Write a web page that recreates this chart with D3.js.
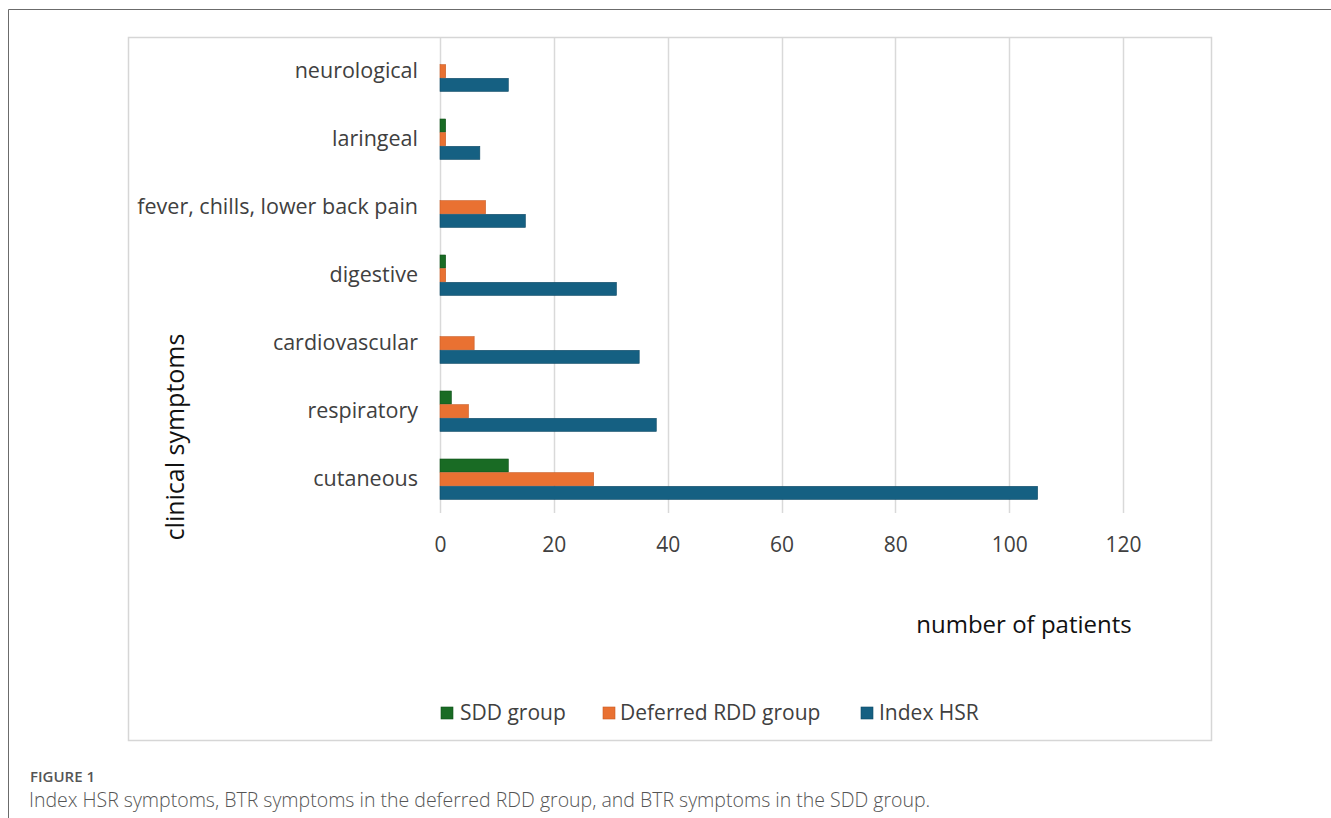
<!DOCTYPE html>
<html><head><meta charset="utf-8">
<script src="https://cdn.jsdelivr.net/npm/d3@7"></script>
<style>body{margin:0;background:#fff;} svg{display:block;}</style>
</head><body>
<script>
const categories = ["neurological","laringeal","fever, chills, lower back pain","digestive","cardiovascular","respiratory","cutaneous"];
const seriesNames = ["SDD group","Deferred RDD group","Index HSR"];
const sddValues = [0,1,0,1,0,2,12];
const rddValues = [1,1,8,1,6,5,27];
const hsrValues = [12,7,15,31,35,38,105];
const xTicks = [0,20,40,60,80,100,120];
const colors = ["#196b24","#e97132","#156082"];
const strokes = ["#10501a","#c85a22","#0e4a66"];

const W=1331,H=818;
const svg=d3.select("body").append("svg").attr("width",W).attr("height",H);
const font="'Open Sans', 'Noto Sans', sans-serif";

// outer frame
svg.append("line").attr("x1",8.5).attr("x2",W).attr("y1",9.5).attr("y2",9.5).attr("stroke","#6b6b6b").attr("stroke-width",1);
svg.append("line").attr("x1",8.5).attr("x2",8.5).attr("y1",9.5).attr("y2",H).attr("stroke","#6b6b6b").attr("stroke-width",1);
// inner box
svg.append("rect").attr("x",128.5).attr("y",37.5).attr("width",1083).attr("height",703)
  .attr("fill","#fff").attr("stroke","#d6d6d6").attr("stroke-width",1.5);

const x=d3.scaleLinear().domain([0,120]).range([440,1123]);
const y=d3.scaleBand().domain(categories).range([37,513]);
const sub=d3.scaleBand().domain(seriesNames).range([0,41]);

// grid
const g=svg.append("g");
g.selectAll("line.grid").data(xTicks).join("line").attr("class","grid")
  .attr("x1",d=>Math.round(x(d))+0.5).attr("x2",d=>Math.round(x(d))+0.5)
  .attr("y1",38).attr("y2",513).attr("stroke","#d9d9d9").attr("stroke-width",1.5);

// x axis tick labels
const xAxis=d3.axisBottom(x).tickValues(xTicks).tickSize(0).tickPadding(0);
const ax=svg.append("g").attr("transform","translate(0,537)").call(xAxis);
ax.select(".domain").remove();
ax.selectAll("text").attr("font-family",font).attr("font-size",21).attr("fill","#404040").attr("dy","0.71em");

// y axis labels
const yAxis=d3.axisLeft(y).tickSize(0).tickPadding(0);
const ay=svg.append("g").attr("transform","translate(418,0)").call(yAxis);
ay.select(".domain").remove();
ay.selectAll("text").attr("font-family",font).attr("font-size",21.5).attr("fill","#404040");

// bars
const data=categories.map((c,i)=>({cat:c,vals:[sddValues[i],rddValues[i],hsrValues[i]]}));
const groups=svg.append("g").selectAll("g").data(data).join("g")
  .attr("transform",d=>`translate(0,${y(d.cat)+y.bandwidth()/2-20.5})`);
groups.selectAll("rect").data(d=>d.vals.map((v,j)=>({v,j}))).join("rect")
  .filter(d=>d.v>0)
  .attr("x",x(0)).attr("y",d=>sub(seriesNames[d.j])+0.5)
  .attr("width",d=>x(d.v)-x(0)).attr("height",sub.bandwidth()-0.6)
  .attr("fill",d=>colors[d.j]).attr("stroke",d=>strokes[d.j]).attr("stroke-width",0.6);

// axis titles
svg.append("text").attr("transform","translate(184,437) rotate(-90)").attr("text-anchor","middle")
  .attr("font-family",font).attr("font-size",25).attr("fill","#111").text("clinical symptoms");
svg.append("text").attr("x",1024).attr("y",633).attr("text-anchor","middle")
  .attr("font-family",font).attr("font-size",24).attr("fill","#111").text("number of patients");

// legend
const legX=[441,603,861];
const leg=svg.append("g").selectAll("g").data(seriesNames).join("g")
  .attr("transform",(d,i)=>`translate(${legX[i]},707)`);
leg.append("rect").attr("width",12).attr("height",12).attr("fill",(d,i)=>colors[i]).attr("stroke",(d,i)=>strokes[i]).attr("stroke-width",0.6);
leg.append("text").attr("x",(d,i)=>[19,17,18][i]).attr("y",6).attr("dy","0.35em").attr("font-family",font).attr("font-size",21).attr("fill","#404040").text(d=>d);

// caption
svg.append("text").attr("x",30).attr("y",782).attr("font-family",font).attr("font-size",15).attr("font-weight",600).attr("fill","#555").text("FIGURE 1");
svg.append("text").attr("x",29).attr("y",807).attr("font-family",font).attr("font-size",19.5).attr("fill","#555").attr("font-weight",300)
  .text("Index HSR symptoms, BTR symptoms in the deferred RDD group, and BTR symptoms in the SDD group.");
</script>
</body></html>
